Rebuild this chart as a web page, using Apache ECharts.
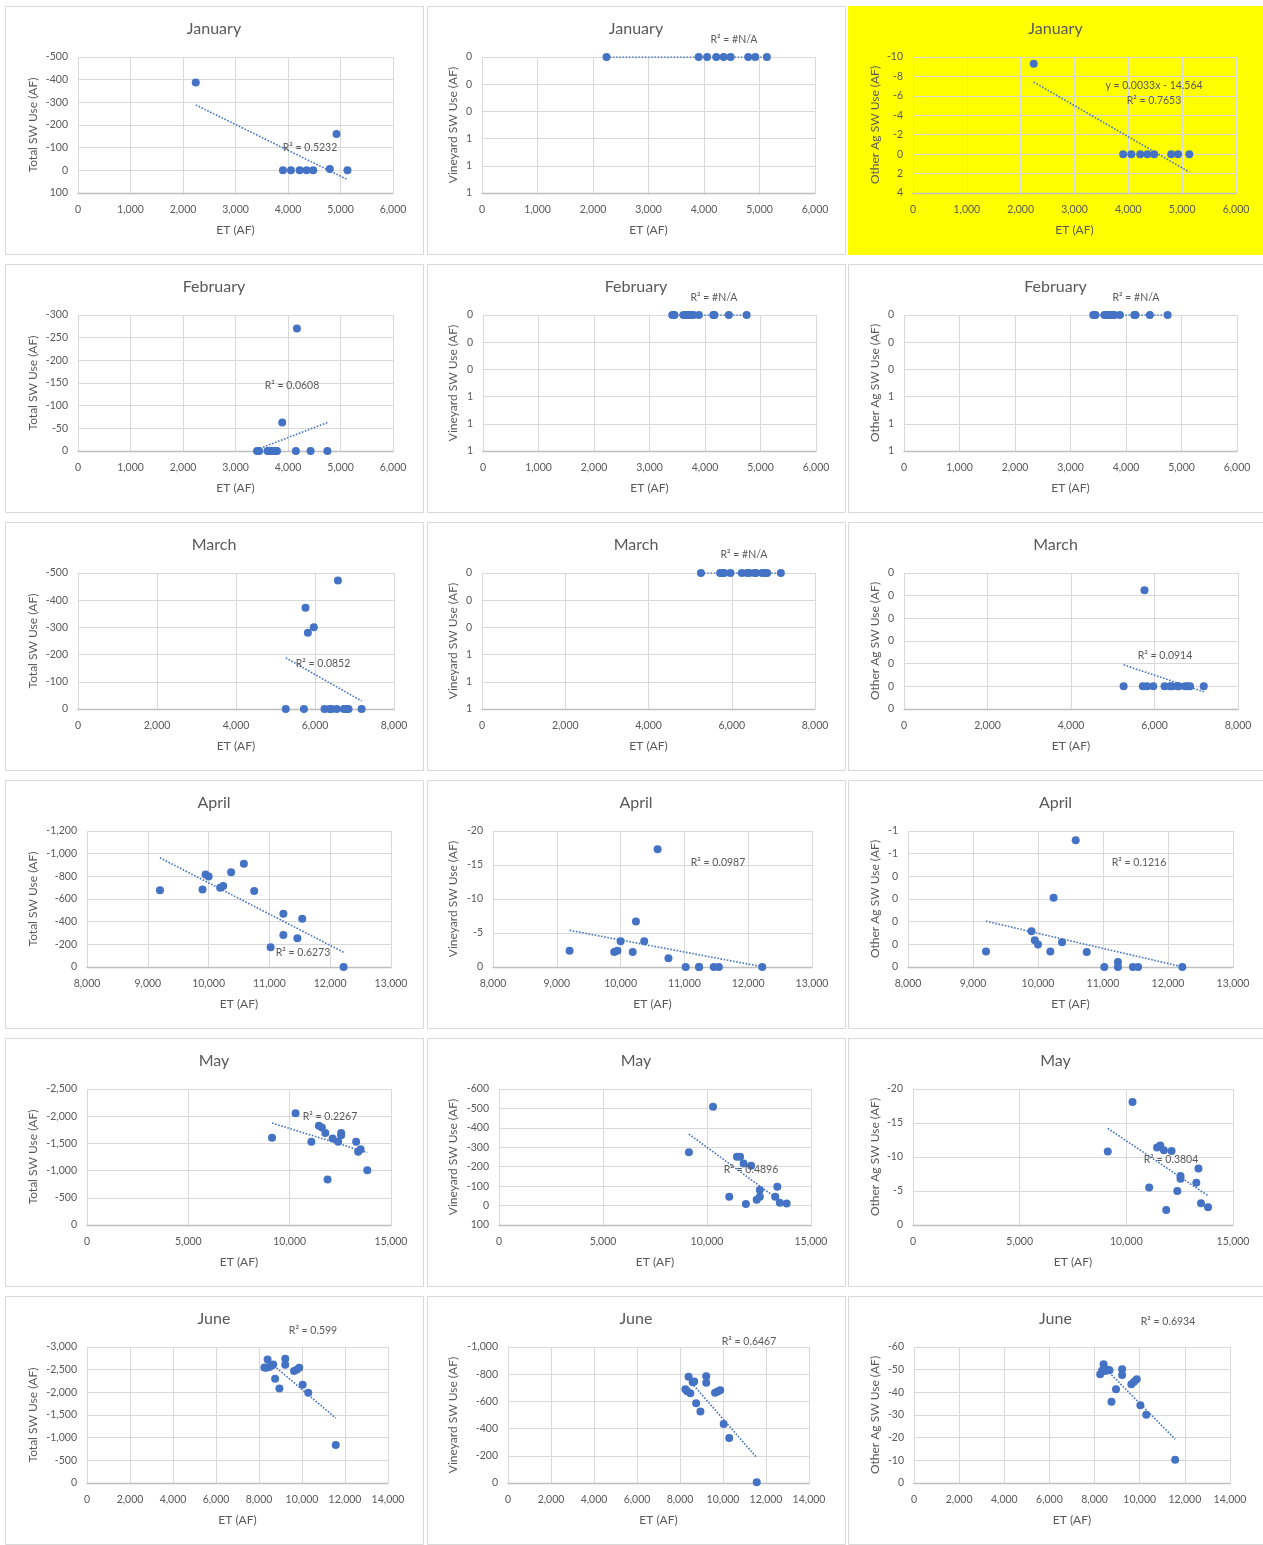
<!DOCTYPE html>
<html><head><meta charset="utf-8">
<script src="https://cdn.jsdelivr.net/npm/echarts@6/dist/echarts.min.js"></script>
<style>html,body{margin:0;padding:0;background:#fff}#c{width:1263px;height:1545px}</style>
</head><body><div id="c"></div>
<script>
// ---------------- DATA ----------------
const months = ["January", "February", "March", "April", "May", "June"];
const yTitles = ["Total SW Use (AF)", "Vineyard SW Use (AF)", "Other Ag SW Use (AF)"];
const xTitle = "ET (AF)";

const etJan = [2243, 3904, 4056, 4221, 4354, 4480, 4797, 4924, 5133];
const totalJan = [-388, 0, 0, 0, 0, 0, -6, -160, 0];
const vineyardJan = [0, 0, 0, 0, 0, 0, 0, 0, 0];
const otherAgJan = [-9.3, 0, 0, 0, 0, 0, 0, 0, 0];

const etFeb = [3410, 3450, 3610, 3650, 3670, 3700, 3730, 3760, 3790, 3890, 4150, 4170, 4430, 4750];
const totalFeb = [0, 0, 0, 0, 0, 0, 0, 0, 0, -63, 0, -270, 0, 0];
const vineyardFeb = [0, 0, 0, 0, 0, 0, 0, 0, 0, 0, 0, 0, 0, 0];
const otherAgFeb = [0, 0, 0, 0, 0, 0, 0, 0, 0, 0, 0, 0, 0, 0];

const etMar = [5260, 5720, 5760, 5820, 5970, 6240, 6370, 6420, 6550, 6580, 6730, 6800, 6850, 7180];
const totalMar = [0, 0, -372, -280, -301, 0, 0, 0, 0, -472, 0, 0, 0, 0];
const vineyardMar = [0, 0, 0, 0, 0, 0, 0, 0, 0, 0, 0, 0, 0, 0];
const otherAgMar = [0, 0, -0.212, 0, 0, 0, 0, 0, 0, 0, 0, 0, 0, 0];

const etApr = [9200, 9900, 9950, 10000, 10190, 10240, 10370, 10580, 10750, 11020, 11230, 11230, 11460, 11540, 12220];
const totalApr = [-678, -684, -817, -799, -699, -714, -835, -912, -670, -174, -469, -283, -254, -425, 0];
const vineyardApr = [-2.4, -2.2, -2.4, -3.8, -2.2, -6.7, -3.8, -17.3, -1.3, 0, 0, 0, 0, 0, 0];
const otherAgApr = [-0.068, -0.158, -0.118, -0.099, -0.068, -0.305, -0.109, -0.559, -0.066, 0, -0.022, 0, 0, 0, 0];

const etMay = [9130, 10290, 11070, 11440, 11590, 11760, 11870, 12120, 12390, 12540, 12540, 13280, 13380, 13500, 13830];
const totalMay = [-1603, -2052, -1530, -1824, -1794, -1689, -835, -1591, -1530, -1652, -1689, -1530, -1345, -1394, -1007];
const vineyardMay = [-275, -508, -46, -251, -251, -217, -8, -205, -30, -80, -46, -46, -97, -15, -11];
const otherAgMay = [-10.8, -18.1, -5.5, -11.4, -11.7, -11.0, -2.2, -10.9, -5.0, -7.2, -6.8, -6.2, -8.3, -3.2, -2.6];

const etJun = [8250, 8330, 8400, 8480, 8590, 8660, 8750, 8950, 9220, 9220, 9630, 9750, 9870, 10030, 10290, 11570];
const totalJun = [-2550, -2545, -2727, -2557, -2594, -2616, -2299, -2085, -2741, -2609, -2469, -2498, -2542, -2166, -1990, -840];
const vineyardJun = [-690, -675, -782, -660, -740, -746, -587, -526, -785, -738, -663, -672, -682, -433, -330, -5];
const otherAgJun = [-48.0, -49.5, -52.4, -49.4, -50.0, -49.7, -35.9, -41.4, -50.2, -47.7, -43.6, -44.7, -45.8, -34.3, -30.1, -10.3];

// trendline annotation texts
const r2Texts = [
  ["R² = 0.5232", "R² = #N/A", "R² = 0.7653"],
  ["R² = 0.0608", "R² = #N/A", "R² = #N/A"],
  ["R² = 0.0852", "R² = #N/A", "R² = 0.0914"],
  ["R² = 0.6273", "R² = 0.0987", "R² = 0.1216"],
  ["R² = 0.2267", "R² = 0.4896", "R² = 0.3804"],
  ["R² = 0.599", "R² = 0.6467", "R² = 0.6934"]
];
const equationText = "y = 0.0033x - 14.564";

// axis scales (tick values)
const xMin = [0, 0, 0, 8000, 0, 0];
const xMax = [6000, 6000, 8000, 13000, 15000, 14000];
const xStep = [1000, 1000, 2000, 1000, 5000, 2000];
const yMin = [[-500, 0, -10], [-300, 0, 0], [-500, 0, -0.25], [-1200, -20, -0.6], [-2500, -600, -20], [-3000, -1000, -60]];
const yMax = [[100, 1, 4], [0, 1, 1], [0, 1, 0.05], [0, 0, 0], [0, 100, 0], [0, 0, 0]];
const yStep = [[100, 0.2, 2], [50, 0.2, 0.2], [100, 0.2, 0.05], [200, 5, 0.1], [500, 100, 5], [500, 200, 10]];

// ---------------- LAYOUT ----------------
const plotLeft = [[78, 482, 913], [78, 483, 904], [78, 482, 904], [87, 493, 908], [87, 499, 913], [87, 508, 914]];
const plotRight = [[393, 815, 1236], [393, 816, 1237], [394, 815, 1238], [391, 812, 1233], [391, 811, 1233], [388, 809, 1230]];
const boxX = [5, 427, 848], boxW = [418, 418, 415];
const yTitleX = [32, 452, 874];
const rowPitch = 258, rowTop0 = 6;
const r2Pos = [
  [[310, 148], [734, 40], [1154, 101]],
  [[292, 386], [714, 298], [1136, 298]],
  [[323, 664], [744, 555], [1165, 656]],
  [[303, 953], [718, 863], [1139, 863]],
  [[330, 1117], [751, 1170], [1171, 1160]],
  [[313, 1331], [749, 1342], [1168, 1322]]
];
const eqPos = [1154, 86];

const etByMonth = [etJan, etFeb, etMar, etApr, etMay, etJun];
const valsByMonth = [
  [totalJan, vineyardJan, otherAgJan],
  [totalFeb, vineyardFeb, otherAgFeb],
  [totalMar, vineyardMar, otherAgMar],
  [totalApr, vineyardApr, otherAgApr],
  [totalMay, vineyardMay, otherAgMay],
  [totalJun, vineyardJun, otherAgJun]
];

const TXT = '#595959', FONT = 'Lato', BLUE = '#4472C4';

function fmtInt(v) {
  const a = Math.round(Math.abs(v) + 1e-9);
  const s = a.toString().replace(/\B(?=(\d{3})+(?!\d))/g, ',');
  return (v < 0 && a !== 0) ? '-' + s : s;
}
function linFit(xs, ys) {
  const n = xs.length;
  let mx = 0, my = 0;
  for (let i = 0; i < n; i++) { mx += xs[i]; my += ys[i]; }
  mx /= n; my /= n;
  let sxy = 0, sxx = 0;
  for (let i = 0; i < n; i++) { sxy += (xs[i] - mx) * (ys[i] - my); sxx += (xs[i] - mx) * (xs[i] - mx); }
  const b = sxx ? sxy / sxx : 0;
  return { b, a: my - b * mx };
}

const option = {
  animation: false, backgroundColor: '#ffffff',
  grid: [], xAxis: [], yAxis: [], series: [], graphic: []
};

months.forEach((m, r) => {
  const rowTop = rowTop0 + r * rowPitch;
  for (let c = 0; c < 3; c++) {
    const idx = r * 3 + c;
    const L = plotLeft[r][c], R = plotRight[r][c];
    const top = rowTop + 51, h = 136;
    option.graphic.push({
      type: 'rect', z: -10, silent: true,
      shape: { x: boxX[c] + 0.5, y: rowTop + 0.5, width: boxW[c], height: 248 },
      style: { fill: (r === 0 && c === 2) ? '#FFFF00' : '#ffffff', stroke: (r === 0 && c === 2) ? '#FFFF00' : '#d9d9d9', lineWidth: 1 }
    });
    option.graphic.push({
      type: 'text', z: 10, silent: true,
      style: { x: boxX[c] + boxW[c] / 2, y: rowTop + 23, text: m, align: 'center', verticalAlign: 'middle',
        fill: TXT, font: '16px ' + FONT }
    });
    option.graphic.push({
      type: 'text', z: 10, silent: true,
      style: { x: r2Pos[r][c][0], y: r2Pos[r][c][1], text: r2Texts[r][c], align: 'center', verticalAlign: 'middle',
        fill: TXT, font: '10.5px ' + FONT }
    });
    option.grid.push({ left: L, top: top, width: R - L, height: h });
    option.xAxis.push({
      type: 'value', gridIndex: idx, min: xMin[r], max: xMax[r], interval: xStep[r], position: 'bottom',
      axisLine: { show: true, onZero: false, lineStyle: { color: '#bfbfbf', width: 1.3 } },
      axisTick: { show: false },
      axisLabel: { color: TXT, fontFamily: FONT, fontSize: 10.5, margin: 11, formatter: fmtInt },
      splitLine: { show: true, lineStyle: { color: '#d9d9d9', width: 1 } },
      name: xTitle, nameLocation: 'middle', nameGap: 31,
      nameTextStyle: { color: TXT, fontFamily: FONT, fontSize: 12 }
    });
    option.yAxis.push({
      type: 'value', gridIndex: idx, inverse: true, min: yMin[r][c], max: yMax[r][c], interval: yStep[r][c],
      axisLine: { show: false }, axisTick: { show: false },
      axisLabel: { color: TXT, fontFamily: FONT, fontSize: 10.5, margin: 10, formatter: fmtInt },
      splitLine: { show: true, lineStyle: { color: '#d9d9d9', width: 1 } },
      name: yTitles[c], nameLocation: 'middle', nameRotate: 90, nameGap: L - yTitleX[c] - 7,
      nameTextStyle: { color: TXT, fontFamily: FONT, fontSize: 12 }
    });
    const xs = etByMonth[r], ys = valsByMonth[r][c];
    const fit = linFit(xs, ys);
    const x0 = Math.min(...xs), x1 = Math.max(...xs);
    option.series.push({
      type: 'line', xAxisIndex: idx, yAxisIndex: idx, symbol: 'none', clip: true, z: 2, silent: true,
      data: [[x0, fit.a + fit.b * x0], [x1, fit.a + fit.b * x1]],
      lineStyle: { color: BLUE, width: 1.6, type: [1.6, 1.6] }
    });
    option.series.push({
      type: 'scatter', xAxisIndex: idx, yAxisIndex: idx, symbol: 'circle', symbolSize: 8, z: 3,
      data: xs.map((x, i) => [x, ys[i]]),
      itemStyle: { color: BLUE, opacity: 1 }
    });
  }
});
option.graphic.push({
  type: 'text', z: 10, silent: true,
  style: { x: eqPos[0], y: eqPos[1], text: equationText, align: 'center', verticalAlign: 'middle', fill: TXT, font: '10.5px ' + FONT }
});

const chart = echarts.init(document.getElementById('c'), null, { renderer: 'canvas' });
chart.setOption(option);
</script>
</body></html>
